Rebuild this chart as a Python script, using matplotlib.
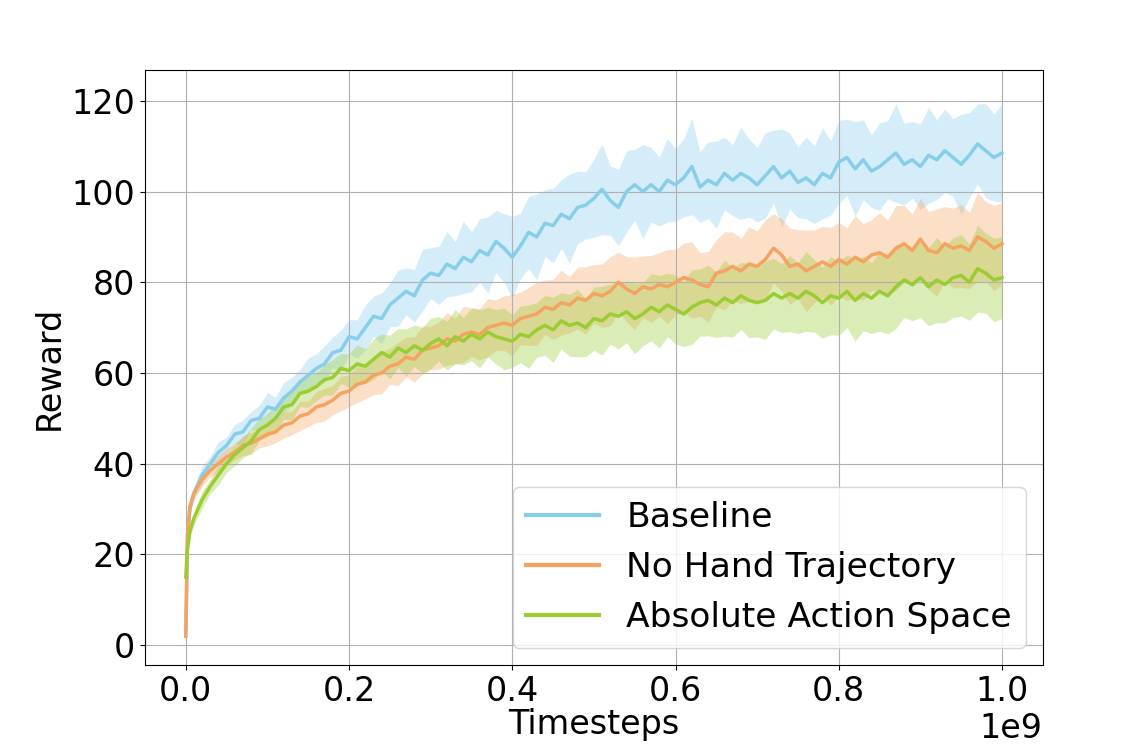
import numpy as np
import matplotlib
matplotlib.use("Agg")
from matplotlib import pyplot as plt

# timesteps (in units of 1e9)
steps = [0.0, 0.002, 0.005] + [i / 100 for i in range(1, 101)]

baseline = [2, 22, 30,
            33.5, 37.5, 40, 42.5, 44, 46.5, 47, 49.5, 50, 52.5,
            52, 54.5, 56, 58, 59.5, 61, 62, 64.5, 65, 68,
            67.5, 70, 72.5, 72, 75, 76.5, 78, 77, 80.5, 82,
            81.5, 84, 83, 85.5, 84.5, 87, 86, 89, 87.5, 85.5,
            88, 91, 90, 93, 92.5, 95, 94, 96.5, 97, 98.5,
            100.5, 98, 96.5, 100, 101.5, 100, 101.5, 100, 102.5, 101.5,
            103, 105.5, 101, 102.5, 101.5, 104, 102.5, 104, 103, 101.5,
            103.5, 105.5, 103, 104.5, 102, 103, 101.5, 104, 103, 106.5,
            107.5, 105, 107, 104.5, 105.5, 107, 108.5, 106, 107, 105.5,
            108, 107, 109, 107.5, 106, 108, 110.5, 109, 107.5, 108.5]
baseline_sd = [0.5, 1, 1.2,
               1.4, 2, 1.6, 2.4, 1.8, 2.2, 2.6, 2, 2.8, 3.2,
               2.6, 3.4, 3, 2.8, 3.8, 3.2, 4, 3.4, 4.4, 3.8,
               4.2, 5, 4.4, 5.6, 4.8, 6.2, 5.2, 5.8, 6.8, 5.6,
               6.4, 7.2, 6, 8, 6.6, 7, 8.4, 6.8, 7.6, 9,
               7.2, 8, 9.4, 7.4, 8.2, 7.6, 9.8, 8, 7.4, 8.6,
               10, 7.6, 8.4, 9, 7.8, 10.4, 8.2, 7.6, 9.2, 8,
               8.6, 10.6, 7.8, 8.4, 9.6, 8, 7.8, 10.2, 8.6, 8.2,
               9.4, 8, 10.8, 8.4, 7.8, 9, 8.6, 10, 8.2, 9.2,
               8.4, 10.4, 8.8, 8, 9.6, 8.6, 10.8, 9, 8.4, 9.4,
               10.6, 8.8, 9.2, 8.6, 11, 9.4, 8.8, 10.4, 9.6, 10.8]

no_hand = [2, 24, 30.5,
           33.5, 36.5, 38.5, 40, 41.5, 42.5, 44, 44.5, 45.5, 46.5,
           47, 48.5, 49, 50.5, 51, 52.5, 53, 54, 55.5, 56,
           57.5, 58, 59.5, 60, 61.5, 62, 63.5, 63, 65, 65.5,
           66, 67.5, 67, 68.5, 69, 68.5, 70, 70.5, 71, 70.5,
           72, 72.5, 73, 74.5, 74, 75.5, 75, 76.5, 76, 77.5,
           77, 78, 80, 78.5, 77.5, 79, 78.5, 79.5, 79, 80,
           81, 80.5, 79.5, 79, 82, 82.5, 83.5, 82.5, 84, 83.5,
           85, 87.5, 86, 83.5, 84, 82.5, 83.5, 84.5, 83.5, 85,
           84, 85.5, 84.5, 86, 86.5, 85.5, 87.5, 88.5, 87, 89.5,
           87, 86.5, 88.5, 87.5, 88, 87, 90, 89, 87.5, 88.5]
no_hand_sd = [0.5, 1, 1.2,
              1.2, 1.6, 1.4, 1.8, 2, 1.7, 2.2, 2.4, 2, 2.6,
              2.4, 2.9, 2.6, 3.2, 2.8, 3.4, 3.6, 3.2, 3.8, 3.5,
              4, 3.7, 4.3, 4.6, 4, 4.8, 4.4, 5, 5.3, 4.8,
              5.2, 5.8, 5, 6.2, 5.4, 5.7, 6.4, 5.6, 6, 6.8,
              5.8, 6.4, 7, 6, 6.6, 7.2, 6.2, 6.8, 7.4, 6.4,
              7, 7.6, 6.6, 7.2, 8, 6.8, 7.4, 7, 8.2, 7.2,
              7.6, 8.4, 7, 7.8, 7.4, 8.6, 7.6, 7.2, 8.2, 7.8,
              8.8, 7.6, 8, 8.4, 7.6, 9, 8, 7.8, 8.6, 8.2,
              8, 9.2, 8.4, 7.8, 8.8, 8.2, 9.4, 8.4, 8, 9,
              8.6, 9.6, 8.2, 8.8, 9.2, 8.4, 9.8, 8.8, 9.4, 9]

absolute = [15, 21, 25,
            28, 32, 35, 37.5, 40, 42, 43.5, 45, 47.5, 48.5,
            50, 52.5, 53, 55.5, 56, 57, 58.5, 59, 61, 60.5,
            62, 61.5, 63, 64.5, 63.5, 65.5, 64.5, 66, 65, 66.5,
            67.5, 66, 68, 67, 68.5, 67.5, 69, 68, 67.5, 67,
            68.5, 68, 69.5, 70.5, 69.5, 71.5, 70.5, 71, 70, 72,
            71.5, 73, 72.5, 73.5, 72, 73, 74.5, 73.5, 75, 74,
            73, 74.5, 75.5, 76, 75, 76.5, 75.5, 77, 76, 75.5,
            76, 77.5, 76.5, 77.5, 76.5, 78, 77, 75.5, 77, 76.5,
            78, 76, 77.5, 76.5, 78, 77, 79, 80.5, 79.5, 81,
            79, 80.5, 79.5, 81, 81.5, 80, 83, 82, 80.5, 81]
absolute_sd = [0.5, 1, 1.2,
               1.4, 1.9, 1.6, 2.2, 1.9, 2.5, 2.2, 2.8, 2.4, 2.6,
               3, 2.7, 3.3, 2.9, 3.6, 3.1, 3.4, 3.9, 3.3, 3.7,
               4.2, 3.8, 4.5, 4.1, 4.8, 4.3, 5.2, 4.6, 5, 5.6,
               4.9, 5.4, 6, 5.2, 5.8, 6.4, 5.5, 6, 6.8, 5.8,
               6.2, 7, 6, 6.6, 7.2, 6.2, 6.8, 7.4, 6.4, 7,
               7.6, 6.6, 7.2, 6.8, 7.8, 7, 7.4, 8, 7, 7.6,
               7.2, 8.2, 7.4, 7.8, 7.2, 8.4, 7.6, 7.4, 8.2, 7.6,
               8.6, 7.8, 7.6, 8.4, 7.8, 8.8, 8, 7.8, 8.6, 8.2,
               8, 9, 8.2, 7.8, 8.8, 8.4, 9.2, 8.2, 8, 8.8,
               8.6, 9.4, 8.4, 8.8, 9, 8.4, 9.6, 8.8, 9.2, 9]

labels = ["Baseline", "No Hand Trajectory", "Absolute Action Space"]
colors = ["skyblue", "sandybrown", "yellowgreen"]

plt.rcParams["font.size"] = 24

fig = plt.figure(figsize=(11.36, 7.5), dpi=100)
ax = fig.add_subplot(111)
fig.subplots_adjust(left=0.1276, right=0.918, bottom=0.1133, top=0.9067)

x = np.array(steps) * 1e9
for mean, sd, label, c in zip([baseline, no_hand, absolute],
                              [baseline_sd, no_hand_sd, absolute_sd],
                              labels, colors):
    mean = np.array(mean)
    sd = np.array(sd)
    ax.fill_between(x, mean - sd, mean + sd, color=c, alpha=0.35, linewidth=0)
    ax.plot(x, mean, color=c, linewidth=2.5, label=label)

ax.set_xlim(-0.05e9, 1.05e9)
ax.set_ylim(-4.4, 126.8)
ax.set_xlabel("Timesteps", labelpad=0)
ax.set_ylabel("Reward")
ax.grid(True)
leg = ax.legend(loc="lower right", fontsize=24.8, handlelength=2.1)
for line in leg.get_lines():
    line.set_linewidth(3)

fig.savefig("out.png", dpi=100)
